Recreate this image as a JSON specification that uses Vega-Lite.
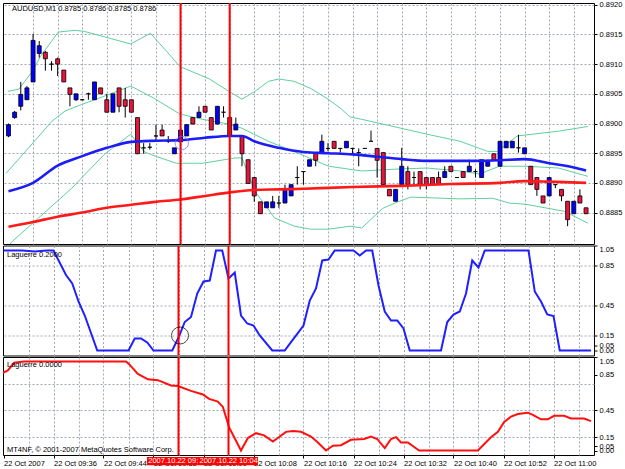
{
  "$schema": "https://vega.github.io/schema/vega-lite/v6.json",
  "background": "white",
  "padding": {"left": 2, "top": 0, "right": 0, "bottom": 0},
  "spacing": -0.5,
  "config": {
    "view": {"stroke": "#000", "strokeWidth": 1},
    "axis": {"labelFont": "Liberation Sans", "labelFontSize": 7.5, "labelColor": "#000", "tickColor": "#000", "gridColor": "#a0a9b4", "gridDash": [2, 2], "gridWidth": 1, "domain": false, "labelOverlap": false, "labelSeparation": 0}
  },
  "resolve": {"scale": {"x": "independent", "y": "independent"}},
  "datasets": {
    "candles": [
      {"i":0,"o":0.88979,"h":0.89000,"l":0.88977,"c":0.88998},
      {"i":1,"o":0.89010,"h":0.89021,"l":0.89008,"c":0.89019},
      {"i":2,"o":0.89029,"h":0.89070,"l":0.89022,"c":0.89049},
      {"i":3,"o":0.89040,"h":0.89063,"l":0.89040,"c":0.89060},
      {"i":4,"o":0.89070,"h":0.89151,"l":0.89070,"c":0.89140},
      {"i":5,"o":0.89118,"h":0.89139,"l":0.89111,"c":0.89131},
      {"i":6,"o":0.89120,"h":0.89122,"l":0.89089,"c":0.89109},
      {"i":7,"o":0.89100,"h":0.89105,"l":0.89089,"c":0.89100},
      {"i":8,"o":0.89109,"h":0.89111,"l":0.89080,"c":0.89100},
      {"i":9,"o":0.89090,"h":0.89090,"l":0.89070,"c":0.89070},
      {"i":10,"o":0.89060,"h":0.89060,"l":0.89029,"c":0.89049},
      {"i":11,"o":0.89040,"h":0.89050,"l":0.89038,"c":0.89050},
      {"i":12,"o":0.89040,"h":0.89041,"l":0.89039,"c":0.89040},
      {"i":13,"o":0.89050,"h":0.89052,"l":0.89040,"c":0.89050},
      {"i":14,"o":0.89040,"h":0.89070,"l":0.89040,"c":0.89070},
      {"i":15,"o":0.89060,"h":0.89060,"l":0.89050,"c":0.89050},
      {"i":16,"o":0.89040,"h":0.89050,"l":0.89019,"c":0.89019},
      {"i":17,"o":0.89019,"h":0.89050,"l":0.89019,"c":0.89050},
      {"i":18,"o":0.89060,"h":0.89060,"l":0.89019,"c":0.89029},
      {"i":19,"o":0.89040,"h":0.89060,"l":0.89010,"c":0.89029},
      {"i":20,"o":0.89040,"h":0.89040,"l":0.89019,"c":0.89019},
      {"i":21,"o":0.89010,"h":0.89010,"l":0.88949,"c":0.88949},
      {"i":22,"o":0.88959,"h":0.88967,"l":0.88949,"c":0.88959},
      {"i":23,"o":0.88960,"h":0.88967,"l":0.88956,"c":0.88960},
      {"i":24,"o":0.88979,"h":0.88998,"l":0.88969,"c":0.88979},
      {"i":25,"o":0.88989,"h":0.88998,"l":0.88979,"c":0.88979},
      {"i":26,"o":0.88970,"h":0.88979,"l":0.88967,"c":0.88970},
      {"i":27,"o":0.88949,"h":0.88959,"l":0.88949,"c":0.88959},
      {"i":28,"o":0.88969,"h":0.88990,"l":0.88969,"c":0.88989},
      {"i":29,"o":0.88979,"h":0.88999,"l":0.88979,"c":0.88998},
      {"i":30,"o":0.89010,"h":0.89010,"l":0.88999,"c":0.88999},
      {"i":31,"o":0.89010,"h":0.89029,"l":0.89010,"c":0.89019},
      {"i":32,"o":0.89029,"h":0.89029,"l":0.89019,"c":0.89019},
      {"i":33,"o":0.89010,"h":0.89010,"l":0.88989,"c":0.88989},
      {"i":34,"o":0.88999,"h":0.89029,"l":0.88999,"c":0.89029},
      {"i":35,"o":0.89019,"h":0.89029,"l":0.89010,"c":0.89019},
      {"i":36,"o":0.89010,"h":0.89010,"l":0.88979,"c":0.88979},
      {"i":37,"o":0.88989,"h":0.89010,"l":0.88989,"c":0.88999},
      {"i":38,"o":0.88979,"h":0.88979,"l":0.88928,"c":0.88949},
      {"i":39,"o":0.88939,"h":0.88939,"l":0.88899,"c":0.88899},
      {"i":40,"o":0.88909,"h":0.88909,"l":0.88868,"c":0.88878},
      {"i":41,"o":0.88868,"h":0.88868,"l":0.88848,"c":0.88848},
      {"i":42,"o":0.88858,"h":0.88868,"l":0.88858,"c":0.88868},
      {"i":43,"o":0.88858,"h":0.88878,"l":0.88858,"c":0.88868},
      {"i":44,"o":0.88866,"h":0.88878,"l":0.88858,"c":0.88866},
      {"i":45,"o":0.88866,"h":0.88897,"l":0.88866,"c":0.88889},
      {"i":46,"o":0.88878,"h":0.88897,"l":0.88878,"c":0.88897},
      {"i":47,"o":0.88909,"h":0.88928,"l":0.88897,"c":0.88909},
      {"i":48,"o":0.88919,"h":0.88919,"l":0.88897,"c":0.88919},
      {"i":49,"o":0.88928,"h":0.88939,"l":0.88928,"c":0.88939},
      {"i":50,"o":0.88951,"h":0.88951,"l":0.88928,"c":0.88938},
      {"i":51,"o":0.88951,"h":0.88981,"l":0.88951,"c":0.88970},
      {"i":52,"o":0.88958,"h":0.88967,"l":0.88953,"c":0.88958},
      {"i":53,"o":0.88970,"h":0.88970,"l":0.88958,"c":0.88958},
      {"i":54,"o":0.88958,"h":0.88958,"l":0.88951,"c":0.88958},
      {"i":55,"o":0.88959,"h":0.88970,"l":0.88959,"c":0.88970},
      {"i":56,"o":0.88958,"h":0.88959,"l":0.88948,"c":0.88958},
      {"i":57,"o":0.88951,"h":0.88958,"l":0.88928,"c":0.88951},
      {"i":58,"o":0.88958,"h":0.88958,"l":0.88958,"c":0.88958},
      {"i":59,"o":0.88970,"h":0.88988,"l":0.88970,"c":0.88970},
      {"i":60,"o":0.88958,"h":0.88958,"l":0.88909,"c":0.88938},
      {"i":61,"o":0.88951,"h":0.88951,"l":0.88897,"c":0.88897},
      {"i":62,"o":0.88889,"h":0.88889,"l":0.88878,"c":0.88878},
      {"i":63,"o":0.88869,"h":0.88889,"l":0.88869,"c":0.88889},
      {"i":64,"o":0.88897,"h":0.88959,"l":0.88897,"c":0.88928},
      {"i":65,"o":0.88919,"h":0.88928,"l":0.88889,"c":0.88897},
      {"i":66,"o":0.88909,"h":0.88919,"l":0.88897,"c":0.88909},
      {"i":67,"o":0.88919,"h":0.88919,"l":0.88889,"c":0.88897},
      {"i":68,"o":0.88909,"h":0.88909,"l":0.88889,"c":0.88897},
      {"i":69,"o":0.88909,"h":0.88909,"l":0.88897,"c":0.88897},
      {"i":70,"o":0.88909,"h":0.88919,"l":0.88897,"c":0.88897},
      {"i":71,"o":0.88909,"h":0.88928,"l":0.88909,"c":0.88919},
      {"i":72,"o":0.88928,"h":0.88928,"l":0.88919,"c":0.88919},
      {"i":73,"o":0.88909,"h":0.88909,"l":0.88909,"c":0.88909},
      {"i":74,"o":0.88919,"h":0.88919,"l":0.88909,"c":0.88909},
      {"i":75,"o":0.88919,"h":0.88939,"l":0.88919,"c":0.88928},
      {"i":76,"o":0.88919,"h":0.88923,"l":0.88909,"c":0.88919},
      {"i":77,"o":0.88909,"h":0.88939,"l":0.88909,"c":0.88939},
      {"i":78,"o":0.88928,"h":0.88938,"l":0.88928,"c":0.88938},
      {"i":79,"o":0.88949,"h":0.88949,"l":0.88938,"c":0.88938},
      {"i":80,"o":0.88928,"h":0.88970,"l":0.88928,"c":0.88970},
      {"i":81,"o":0.88959,"h":0.88970,"l":0.88959,"c":0.88970},
      {"i":82,"o":0.88959,"h":0.88970,"l":0.88959,"c":0.88970},
      {"i":83,"o":0.88959,"h":0.88981,"l":0.88951,"c":0.88959},
      {"i":84,"o":0.88949,"h":0.88959,"l":0.88949,"c":0.88959},
      {"i":85,"o":0.88928,"h":0.88928,"l":0.88897,"c":0.88897},
      {"i":86,"o":0.88909,"h":0.88909,"l":0.88878,"c":0.88889},
      {"i":87,"o":0.88878,"h":0.88878,"l":0.88866,"c":0.88866},
      {"i":88,"o":0.88878,"h":0.88909,"l":0.88878,"c":0.88909},
      {"i":89,"o":0.88897,"h":0.88897,"l":0.88891,"c":0.88897},
      {"i":90,"o":0.88889,"h":0.88889,"l":0.88869,"c":0.88878},
      {"i":91,"o":0.88869,"h":0.88869,"l":0.88827,"c":0.88838},
      {"i":92,"o":0.88848,"h":0.88869,"l":0.88848,"c":0.88869},
      {"i":93,"o":0.88878,"h":0.88889,"l":0.88866,"c":0.88866},
      {"i":94,"o":0.88858,"h":0.88858,"l":0.88848,"c":0.88848}
    ],
    "ma": [
      {"ma":"fast","i":0,"p":0.88886},{"ma":"fast","i":4,"p":0.889},{"ma":"fast","i":8,"p":0.88929},{"ma":"fast","i":12,"p":0.88945},{"ma":"fast","i":16,"p":0.88959},{"ma":"fast","i":20,"p":0.88969},{"ma":"fast","i":24,"p":0.88971},{"ma":"fast","i":28,"p":0.88972},{"ma":"fast","i":32,"p":0.88976},{"ma":"fast","i":36,"p":0.88979},{"ma":"fast","i":38,"p":0.88979},{"ma":"fast","i":40,"p":0.8897},{"ma":"fast","i":44,"p":0.88959},{"ma":"fast","i":48,"p":0.88952},{"ma":"fast","i":52,"p":0.8895},{"ma":"fast","i":56,"p":0.88948},{"ma":"fast","i":60,"p":0.88944},{"ma":"fast","i":64,"p":0.8894},{"ma":"fast","i":68,"p":0.88937},{"ma":"fast","i":72,"p":0.88937},{"ma":"fast","i":76,"p":0.88937},{"ma":"fast","i":80,"p":0.88938},{"ma":"fast","i":84,"p":0.8894},{"ma":"fast","i":88,"p":0.88933},{"ma":"fast","i":92,"p":0.88926},{"ma":"fast","i":94,"p":0.88921},
      {"ma":"slow","i":0,"p":0.88826},{"ma":"slow","i":4,"p":0.88834},{"ma":"slow","i":8,"p":0.88843},{"ma":"slow","i":12,"p":0.8885},{"ma":"slow","i":16,"p":0.88858},{"ma":"slow","i":20,"p":0.88863},{"ma":"slow","i":24,"p":0.88868},{"ma":"slow","i":28,"p":0.88872},{"ma":"slow","i":32,"p":0.88878},{"ma":"slow","i":36,"p":0.88884},{"ma":"slow","i":40,"p":0.88888},{"ma":"slow","i":44,"p":0.88889},{"ma":"slow","i":48,"p":0.8889},{"ma":"slow","i":56,"p":0.88893},{"ma":"slow","i":64,"p":0.88895},{"ma":"slow","i":72,"p":0.88898},{"ma":"slow","i":80,"p":0.889},{"ma":"slow","i":84,"p":0.88903},{"ma":"slow","i":88,"p":0.88902},{"ma":"slow","i":94,"p":0.889}
    ],
    "bb": [
      {"band":"upper","i":-0.1,"p":0.89054},{"band":"upper","i":1.7,"p":0.89058},{"band":"upper","i":3.9,"p":0.89088},{"band":"upper","i":5.2,"p":0.89113},{"band":"upper","i":8.1,"p":0.89154},{"band":"upper","i":10.8,"p":0.89157},{"band":"upper","i":12.4,"p":0.89155},{"band":"upper","i":19.9,"p":0.89134},{"band":"upper","i":23.1,"p":0.89152},{"band":"upper","i":25.7,"p":0.89122},{"band":"upper","i":27.9,"p":0.89096},{"band":"upper","i":32.7,"p":0.89075},{"band":"upper","i":35.9,"p":0.89054},{"band":"upper","i":38,"p":0.89041},{"band":"upper","i":40.1,"p":0.89054},{"band":"upper","i":42.3,"p":0.89071},{"band":"upper","i":44,"p":0.89075},{"band":"upper","i":46.5,"p":0.89071},{"band":"upper","i":49.2,"p":0.89059},{"band":"upper","i":52,"p":0.89041},{"band":"upper","i":54,"p":0.89026},{"band":"upper","i":55.6,"p":0.89011},{"band":"upper","i":57.5,"p":0.89007},{"band":"upper","i":60.1,"p":0.89001},{"band":"upper","i":68.1,"p":0.88982},{"band":"upper","i":73.5,"p":0.8897},{"band":"upper","i":78,"p":0.88953},{"band":"upper","i":79.6,"p":0.88953},{"band":"upper","i":82.8,"p":0.88979},{"band":"upper","i":89.5,"p":0.88987},{"band":"upper","i":94.3,"p":0.88995},
      {"band":"mid","i":-0.4,"p":0.88916},{"band":"mid","i":7.1,"p":0.89004},{"band":"mid","i":9.2,"p":0.89021},{"band":"mid","i":11.9,"p":0.89032},{"band":"mid","i":15.6,"p":0.89046},{"band":"mid","i":19.9,"p":0.89063},{"band":"mid","i":23.6,"p":0.89043},{"band":"mid","i":27.9,"p":0.89016},{"band":"mid","i":31.6,"p":0.89007},{"band":"mid","i":35.9,"p":0.88999},{"band":"mid","i":38,"p":0.88992},{"band":"mid","i":42.3,"p":0.8897},{"band":"mid","i":47.6,"p":0.88948},{"band":"mid","i":52.1,"p":0.88928},{"band":"mid","i":57.5,"p":0.8892},{"band":"mid","i":62.8,"p":0.88923},{"band":"mid","i":68.1,"p":0.88925},{"band":"mid","i":73.5,"p":0.8892},{"band":"mid","i":76.7,"p":0.88915},{"band":"mid","i":79.9,"p":0.88928},{"band":"mid","i":84.1,"p":0.88928},{"band":"mid","i":89.5,"p":0.88925},{"band":"mid","i":94.3,"p":0.88911},
      {"band":"lower","i":-0.4,"p":0.8879},{"band":"lower","i":0.7,"p":0.88802},{"band":"lower","i":4.9,"p":0.88841},{"band":"lower","i":10.3,"p":0.88891},{"band":"lower","i":15.6,"p":0.88948},{"band":"lower","i":19.9,"p":0.88982},{"band":"lower","i":22,"p":0.88953},{"band":"lower","i":23.1,"p":0.88948},{"band":"lower","i":27.3,"p":0.88933},{"band":"lower","i":31.6,"p":0.88933},{"band":"lower","i":36.9,"p":0.88942},{"band":"lower","i":38,"p":0.88942},{"band":"lower","i":40.1,"p":0.88886},{"band":"lower","i":43.3,"p":0.88841},{"band":"lower","i":46.5,"p":0.88827},{"band":"lower","i":49.2,"p":0.88822},{"band":"lower","i":52.1,"p":0.88822},{"band":"lower","i":55.6,"p":0.88827},{"band":"lower","i":57.5,"p":0.88824},{"band":"lower","i":60.9,"p":0.88857},{"band":"lower","i":63.6,"p":0.88869},{"band":"lower","i":65.5,"p":0.88876},{"band":"lower","i":73.5,"p":0.88873},{"band":"lower","i":78.8,"p":0.88874},{"band":"lower","i":81.5,"p":0.88866},{"band":"lower","i":84.1,"p":0.88864},{"band":"lower","i":90.5,"p":0.88852},{"band":"lower","i":94.3,"p":0.88832}
    ],
    "lag1": [
      {"i":0,"v":1},{"i":3,"v":1},{"i":5,"v":0.99},{"i":7,"v":1},{"i":8,"v":1},{"i":10,"v":0.755},{"i":11,"v":0.67},{"i":12,"v":0.49},{"i":13,"v":0.35},{"i":15,"v":0},{"i":20,"v":0},{"i":21,"v":0.12},{"i":22,"v":0.12},{"i":23,"v":0.08},{"i":24,"v":0},{"i":27,"v":0},{"i":28,"v":0.13},{"i":29,"v":0.285},{"i":30,"v":0.335},{"i":31,"v":0.57},{"i":32,"v":0.69},{"i":33,"v":0.7},{"i":34,"v":1},{"i":35,"v":1},{"i":36,"v":0.72},{"i":37,"v":0.78},{"i":38,"v":0.35},{"i":39,"v":0.27},{"i":40,"v":0.25},{"i":41,"v":0.15},{"i":43,"v":0},{"i":45,"v":0},{"i":46,"v":0.084},{"i":48,"v":0.25},{"i":49,"v":0.5},{"i":50,"v":0.62},{"i":51,"v":0.9},{"i":52,"v":0.91},{"i":53,"v":1},{"i":56,"v":1},{"i":57,"v":0.95},{"i":58,"v":1},{"i":59,"v":1},{"i":60,"v":0.65},{"i":61,"v":0.39},{"i":62,"v":0.3},{"i":63,"v":0.3},{"i":64,"v":0.22},{"i":65,"v":0},{"i":70,"v":0},{"i":71,"v":0.285},{"i":72,"v":0.36},{"i":73,"v":0.39},{"i":74,"v":0.57},{"i":75,"v":0.9},{"i":76,"v":0.83},{"i":77,"v":1},{"i":84,"v":1},{"i":85,"v":0.59},{"i":86,"v":0.49},{"i":87,"v":0.36},{"i":88,"v":0.345},{"i":89,"v":0},{"i":94,"v":0}
    ],
    "lag2": [
      {"i":-0.4,"v":0.86},{"i":0.7,"v":0.9},{"i":1.7,"v":0.985},{"i":3.3,"v":1},{"i":19.6,"v":1},{"i":20.1,"v":0.97},{"i":21.5,"v":0.86},{"i":23.1,"v":0.8},{"i":24.7,"v":0.79},{"i":26.8,"v":0.73},{"i":27.9,"v":0.724},{"i":30,"v":0.67},{"i":31.9,"v":0.63},{"i":32.9,"v":0.58},{"i":34.3,"v":0.55},{"i":35.1,"v":0.49},{"i":36.1,"v":0.26},{"i":37.2,"v":0.11},{"i":38,"v":0},{"i":39.1,"v":0.14},{"i":40.4,"v":0.195},{"i":41.7,"v":0.17},{"i":43.1,"v":0.1},{"i":45.2,"v":0.21},{"i":46.3,"v":0.22},{"i":47.6,"v":0.21},{"i":49.2,"v":0.157},{"i":50.3,"v":0.09},{"i":51.6,"v":0},{"i":52.7,"v":0.054},{"i":54,"v":0.06},{"i":55.6,"v":0.12},{"i":57.7,"v":0.13},{"i":58.8,"v":0.157},{"i":59.8,"v":0.13},{"i":61,"v":0.027},{"i":62,"v":0.13},{"i":62.8,"v":0.15},{"i":63.6,"v":0.09},{"i":64.7,"v":0.09},{"i":66.5,"v":0},{"i":75.9,"v":0},{"i":78,"v":0.15},{"i":79.1,"v":0.21},{"i":80.1,"v":0.32},{"i":81.2,"v":0.38},{"i":82.3,"v":0.41},{"i":83.9,"v":0.425},{"i":84.7,"v":0.4},{"i":86,"v":0.35},{"i":87.1,"v":0.35},{"i":88.1,"v":0.39},{"i":89.7,"v":0.39},{"i":90.8,"v":0.36},{"i":92.9,"v":0.36},{"i":94,"v":0.33}
    ],
    "marks": [{"i":28,"label":"2007.10.22 09:56"},{"i":36,"label":"2007.10.22 10:04"}]
  },
  "vconcat": [
    {
      "width": 591,
      "height": 241,
      "encoding": {
        "x": {"type": "quantitative", "scale": {"domain": [-0.08, 94.48], "nice": false, "zero": false},
              "axis": {"values": [4,8,12,16,20,24,28,32,36,40,44,48,52,56,60,64,68,72,76,80,84,88,92], "tickCount": 200, "grid": true, "labels": false, "ticks": false, "title": null}}
      },
      "layer": [
        {
          "data": {"name": "bb"},
          "mark": {"type": "line", "color": "#5fcf9e", "strokeWidth": 1, "clip": true},
          "encoding": {
            "x": {"field": "i", "type": "quantitative"},
            "y": {"field": "p", "type": "quantitative", "scale": {"domain": [0.88797, 0.89203], "nice": false, "zero": false},
                  "axis": {"orient": "right", "values": [0.8885,0.889,0.8895,0.89,0.8905,0.891,0.8915,0.892], "tickCount": 200, "format": ".4f", "grid": true, "tickSize": 3, "labelPadding": 2, "labelOverlap": false, "labelFlush": false, "title": null}},
            "detail": {"field": "band"}
          }
        },
        {
          "data": {"name": "candles"},
          "mark": {"type": "rule", "color": "#000", "strokeWidth": 1},
          "encoding": {
            "x": {"field": "i", "type": "quantitative"},
            "y": {"field": "l", "type": "quantitative"},
            "y2": {"field": "h"}
          }
        },
        {
          "data": {"name": "candles"},
          "mark": {"type": "bar", "size": 4, "stroke": "#000", "strokeWidth": 0.8},
          "encoding": {
            "x": {"field": "i", "type": "quantitative"},
            "y": {"field": "o", "type": "quantitative"},
            "y2": {"field": "c"},
            "fill": {"condition": {"test": "datum.c > datum.o", "value": "#0000ff"}, "value": "#e8143c"}
          }
        },
        {
          "data": {"name": "ma"},
          "mark": {"type": "line", "strokeWidth": 2.6, "interpolate": "monotone", "clip": true},
          "encoding": {
            "x": {"field": "i", "type": "quantitative"},
            "y": {"field": "p", "type": "quantitative"},
            "color": {"field": "ma", "type": "nominal", "scale": {"domain": ["fast", "slow"], "range": ["#1c1cf5", "#ff1a1a"]}, "legend": null}
          }
        },
        {
          "data": {"name": "marks"},
          "mark": {"type": "rule", "color": "#ff0000", "strokeWidth": 2, "clip": true},
          "encoding": {"x": {"field": "i", "type": "quantitative"}}
        },
        {
          "data": {"values": [{"i": 28.2, "p": 0.88967}]},
          "mark": {"type": "point", "shape": "circle", "filled": false, "color": "#6a6aff", "strokeWidth": 1, "size": 180},
          "encoding": {"x": {"field": "i", "type": "quantitative"}, "y": {"field": "p", "type": "quantitative"}}
        },
        {
          "data": {"values": [{}]},
          "mark": {"type": "text", "align": "left", "baseline": "top", "dx": 4, "dy": 2, "font": "Liberation Sans", "fontSize": 7.5, "color": "#000"},
          "encoding": {"x": {"datum": -0.08, "type": "quantitative"}, "y": {"datum": 0.89203, "type": "quantitative"}, "text": {"value": "AUDUSD,M1  0.8785 0.8786 0.8785 0.8786"}}
        }
      ]
    },
    {
      "width": 591,
      "height": 110,
      "encoding": {
        "x": {"type": "quantitative", "scale": {"domain": [-0.08, 94.48], "nice": false, "zero": false},
              "axis": {"values": [4,8,12,16,20,24,28,32,36,40,44,48,52,56,60,64,68,72,76,80,84,88,92], "tickCount": 200, "grid": true, "labels": false, "ticks": false, "title": null}}
      },
      "layer": [
        {
          "data": {"name": "lag1"},
          "mark": {"type": "line", "color": "#1f1fff", "strokeWidth": 2, "clip": true},
          "encoding": {
            "x": {"field": "i", "type": "quantitative"},
            "y": {"field": "v", "type": "quantitative", "scale": {"domain": [-0.05, 1.05], "nice": false, "zero": false},
                  "axis": {"orient": "right", "values": [0, 0.05, 0.15, 0.45, 0.85, 1.05], "tickCount": 200, "format": ".2f", "grid": true, "labelFlush": true, "labelOverlap": false, "tickSize": 3, "labelPadding": 2, "title": null,
                           "gridOpacity": {"condition": {"test": "datum.value > 0.1 && datum.value < 1", "value": 1}, "value": 0}}}
          }
        },
        {
          "data": {"values": [{}]},
          "mark": {"type": "text", "align": "left", "baseline": "top", "dx": 4, "dy": 5, "font": "Liberation Sans", "fontSize": 7.5, "color": "#000"},
          "encoding": {
            "x": {"datum": -0.08, "type": "quantitative"},
            "y": {"datum": 1.05, "type": "quantitative"},
            "text": {"value": "Laguerre 0.2000"}
          }
        },
        {
          "data": {"name": "marks"},
          "mark": {"type": "rule", "color": "#ff0000", "strokeWidth": 2, "clip": true},
          "encoding": {"x": {"field": "i", "type": "quantitative"}}
        },
        {
          "data": {"values": [{"i": 28.24, "v": 0.15}]},
          "mark": {"type": "point", "shape": "circle", "filled": false, "color": "#000", "strokeWidth": 1, "size": 290},
          "encoding": {"x": {"field": "i", "type": "quantitative"}, "y": {"field": "v", "type": "quantitative"}}
        }
      ]
    },
    {
      "width": 591,
      "height": 98,
      "encoding": {
        "x": {"type": "quantitative", "scale": {"domain": [-0.08, 94.48], "nice": false, "zero": false},
              "axis": {"values": [0,4,8,12,16,20,24,28,32,36,40,44,48,52,56,60,64,68,72,76,80,84,88,92], "tickCount": 200, "grid": true, "title": null,
                       "labelFlush": false, "labelOverlap": false, "labelAlign": "left", "labelBaseline": "top", "labelPadding": 1, "tickSize": 3,
                       "labelExpr": "datum.value % 8 == 0 ? ['22 Oct 2007','22 Oct 09:36','22 Oct 09:44','22 Oct 09:52','22 Oct 10:00','22 Oct 10:08','22 Oct 10:16','22 Oct 10:24','22 Oct 10:32','22 Oct 10:40','22 Oct 10:52','22 Oct 11:00'][datum.value / 8] : ''",
                       "tickOpacity": {"condition": {"test": "datum.value % 8 == 0", "value": 1}, "value": 0},
                       "gridOpacity": {"condition": {"test": "datum.value > 0", "value": 1}, "value": 0}}}
      },
      "layer": [
        {
          "data": {"name": "lag2"},
          "mark": {"type": "line", "color": "#ff1010", "strokeWidth": 2, "clip": true},
          "encoding": {
            "x": {"field": "i", "type": "quantitative"},
            "y": {"field": "v", "type": "quantitative", "scale": {"domain": [-0.05, 1.05], "nice": false, "zero": false},
                  "axis": {"orient": "right", "values": [0, 0.05, 0.15, 0.45, 0.75, 0.85, 1.05], "tickCount": 200, "format": ".2f", "grid": true, "labelFlush": true, "labelOverlap": false, "tickSize": 3, "labelPadding": 2, "title": null,
                           "labelExpr": "datum.value == 0.75 ? '' : datum.label",
                           "tickOpacity": {"condition": {"test": "datum.value == 0.75", "value": 0}, "value": 1},
                           "gridOpacity": {"condition": {"test": "datum.value > 0.1 && datum.value < 0.8", "value": 1}, "value": 0}}}
          }
        },
        {
          "data": {"values": [{}]},
          "mark": {"type": "text", "align": "left", "baseline": "top", "dx": 4, "dy": 4, "font": "Liberation Sans", "fontSize": 7.5, "color": "#000"},
          "encoding": {
            "x": {"datum": -0.08, "type": "quantitative"},
            "y": {"datum": 1.05, "type": "quantitative"},
            "text": {"value": "Laguerre 0.0000"}
          }
        },
        {
          "data": {"values": [{}]},
          "mark": {"type": "text", "align": "left", "baseline": "middle", "dx": 4, "dy": -1, "font": "Liberation Sans", "fontSize": 7.5, "color": "#000"},
          "encoding": {
            "x": {"datum": -0.08, "type": "quantitative"},
            "y": {"datum": 0, "type": "quantitative"},
            "text": {"value": "MT4NF, © 2001-2007 MetaQuotes Software Corp."}
          }
        },
        {
          "data": {"name": "marks"},
          "mark": {"type": "rule", "color": "#ff0000", "strokeWidth": 2, "clip": true},
          "encoding": {"x": {"field": "i", "type": "quantitative"}}
        },
        {
          "data": {"values": [{}]},
          "mark": {"type": "rect", "color": "#ff0000"},
          "encoding": {"x": {"datum": 22.96, "type": "quantitative"}, "x2": {"datum": 31.1}, "y": {"datum": -0.072, "type": "quantitative"}, "y2": {"datum": -0.165}}
        },
        {
          "data": {"values": [{}]},
          "mark": {"type": "text", "align": "left", "baseline": "middle", "dx": 1, "font": "Liberation Sans", "fontSize": 7.5, "color": "#fff"},
          "encoding": {"x": {"datum": 23.0, "type": "quantitative"}, "y": {"datum": -0.118, "type": "quantitative"}, "text": {"value": "2007.10.22 09:56"}}
        },
        {
          "data": {"values": [{}]},
          "mark": {"type": "rect", "color": "#ff0000"},
          "encoding": {"x": {"datum": 31.1, "type": "quantitative"}, "x2": {"datum": 40.72}, "y": {"datum": -0.072, "type": "quantitative"}, "y2": {"datum": -0.165}}
        },
        {
          "data": {"values": [{}]},
          "mark": {"type": "text", "align": "left", "baseline": "middle", "dx": 1, "font": "Liberation Sans", "fontSize": 7.5, "color": "#fff"},
          "encoding": {"x": {"datum": 31.2, "type": "quantitative"}, "y": {"datum": -0.118, "type": "quantitative"}, "text": {"value": "2007.10.22 10:04"}}
        }
      ]
    }
  ]
}
